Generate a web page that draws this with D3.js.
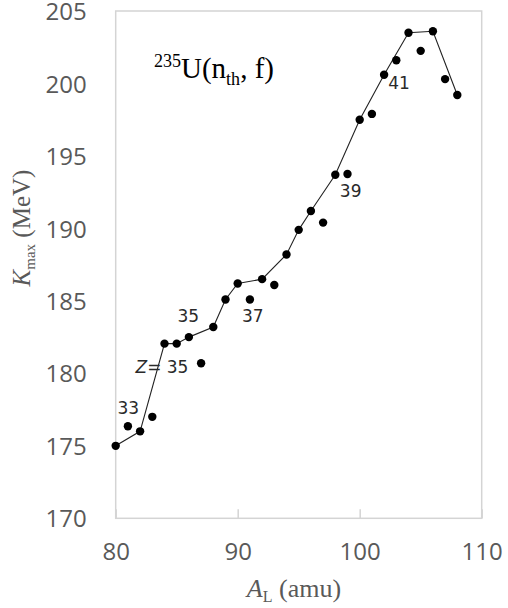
<!DOCTYPE html>
<html>
<head>
<meta charset="utf-8">
<script src="https://cdn.jsdelivr.net/npm/d3@7"></script>
<style>
body { margin: 0; background: #fff; }
svg { display: block; }
</style>
</head>
<body>
<svg id="chart" width="508" height="608"></svg>
<script>
// Connected series (max K for each A_L, line)
const lineA = [80, 82, 84, 85, 86, 88, 89, 90, 92, 94, 95, 96, 98, 100, 102, 104, 106, 108];
const lineK = [175.0, 176.0, 182.05, 182.05, 182.5, 183.2, 185.1, 186.2, 186.5, 188.2, 189.9, 191.2, 193.7, 197.5, 200.6, 203.5, 203.6, 199.2];
// Unconnected points
const dotA = [81, 83, 87, 91, 93, 97, 99, 101, 103, 105, 107];
const dotK = [176.35, 177.0, 180.7, 185.1, 186.1, 190.4, 193.75, 197.9, 201.6, 202.25, 200.3];
// Tick labels
const xTicks = [80, 90, 100, 110];
const yTicks = [170, 175, 180, 185, 190, 195, 200, 205];
// Z annotations (text, A, K)
const zText = ["33", "35", "37", "39", "41"];
const zA = [81.03, 85.95, 91.23, 99.26, 103.22];
const zK = [177.6, 183.98, 183.98, 192.59, 200.06];

const svg = d3.select("#chart");
const L = 115.7, R = 481.7, T = 11, B = 518.3;
const x = d3.scaleLinear().domain([80, 110]).range([L, R]);
const y = d3.scaleLinear().domain([170, 205]).range([B, T]);

// frame
svg.append("rect").attr("x", L).attr("y", T).attr("width", R - L).attr("height", B - T)
  .attr("fill", "none").attr("stroke", "#d4d4d4").attr("stroke-width", 1.5);

// x axis
const gx = svg.append("g").attr("transform", `translate(0,${B})`)
  .call(d3.axisBottom(x).tickValues(xTicks).tickSize(-9).tickPadding(25).tickFormat(d3.format("d")));
gx.select(".domain").remove();
gx.selectAll(".tick line").attr("stroke", "#d4d4d4").attr("stroke-width", 1.5);
gx.selectAll(".tick text").attr("fill", "#595959").attr("font-family", "'Open Sans', sans-serif").attr("font-size", 24);

// y axis
const gy = svg.append("g").attr("transform", `translate(${L},0)`)
  .call(d3.axisLeft(y).tickValues(yTicks).tickSize(0).tickPadding(29).tickFormat(d3.format("d")));
gy.select(".domain").remove();
gy.selectAll(".tick text").attr("fill", "#595959").attr("font-family", "'Open Sans', sans-serif").attr("font-size", 24)
  .attr("dy", "0.36em");

// line
const pts = lineA.map((a, i) => [a, lineK[i]]);
svg.append("path").datum(pts)
  .attr("d", d3.line().x(d => x(d[0])).y(d => y(d[1])))
  .attr("fill", "none").attr("stroke", "#222").attr("stroke-width", 1.1);

svg.append("g").selectAll("circle").data(pts).join("circle")
  .attr("cx", d => x(d[0])).attr("cy", d => y(d[1])).attr("r", 4.2).attr("fill", "#000");

const dots = dotA.map((a, i) => [a, dotK[i]]);
svg.append("g").selectAll("circle").data(dots).join("circle")
  .attr("cx", d => x(d[0])).attr("cy", d => y(d[1])).attr("r", 4.2).attr("fill", "#000");

// Z labels
svg.append("g").selectAll("text").data(zText).join("text")
  .attr("x", (d, i) => x(zA[i])).attr("y", (d, i) => y(zK[i]))
  .attr("text-anchor", "middle").attr("dy", "0.36em")
  .attr("font-family", "'DejaVu Sans', Verdana, sans-serif").attr("font-size", 17)
  .attr("fill", "#2a2a2a").text(d => d);

const zt = svg.append("text").attr("x", x(83.79)).attr("y", y(180.46)).attr("dy", "0.36em")
  .attr("text-anchor", "middle")
  .attr("font-family", "'DejaVu Sans', Verdana, sans-serif").attr("font-size", 17).attr("fill", "#2a2a2a");
zt.append("tspan").attr("font-style", "italic").text("Z");
zt.append("tspan").text("= 35");

// reaction label
const rl = svg.append("text").attr("x", 154).attr("y", 78)
  .attr("font-family", "'Liberation Serif', 'Times New Roman', serif").attr("font-size", 29).attr("fill", "#000");
rl.append("tspan").attr("font-size", 18).attr("dy", -11).text("235");
rl.append("tspan").attr("dy", 11).text("U(n");
rl.append("tspan").attr("font-size", 18).attr("dy", 7).text("th");
rl.append("tspan").attr("dy", -7).text(", f)");

// x title
const xt = svg.append("text").attr("x", 294).attr("y", 597).attr("text-anchor", "middle")
  .attr("font-family", "'Liberation Serif', 'Times New Roman', serif").attr("font-size", 26).attr("fill", "#595959");
xt.append("tspan").attr("font-style", "italic").text("A");
xt.append("tspan").attr("font-size", 16).attr("dy", 5).text("L");
xt.append("tspan").attr("dy", -5).text(" (amu)");

// y title
const yt = svg.append("text").attr("transform", "translate(30,228) rotate(-90)").attr("text-anchor", "middle")
  .attr("font-family", "'Liberation Serif', 'Times New Roman', serif").attr("font-size", 25).attr("fill", "#595959");
yt.append("tspan").attr("font-style", "italic").text("K");
yt.append("tspan").attr("font-size", 15).attr("dy", 5).text("max");
yt.append("tspan").attr("dy", -5).text(" (MeV)");
</script>
</body>
</html>
